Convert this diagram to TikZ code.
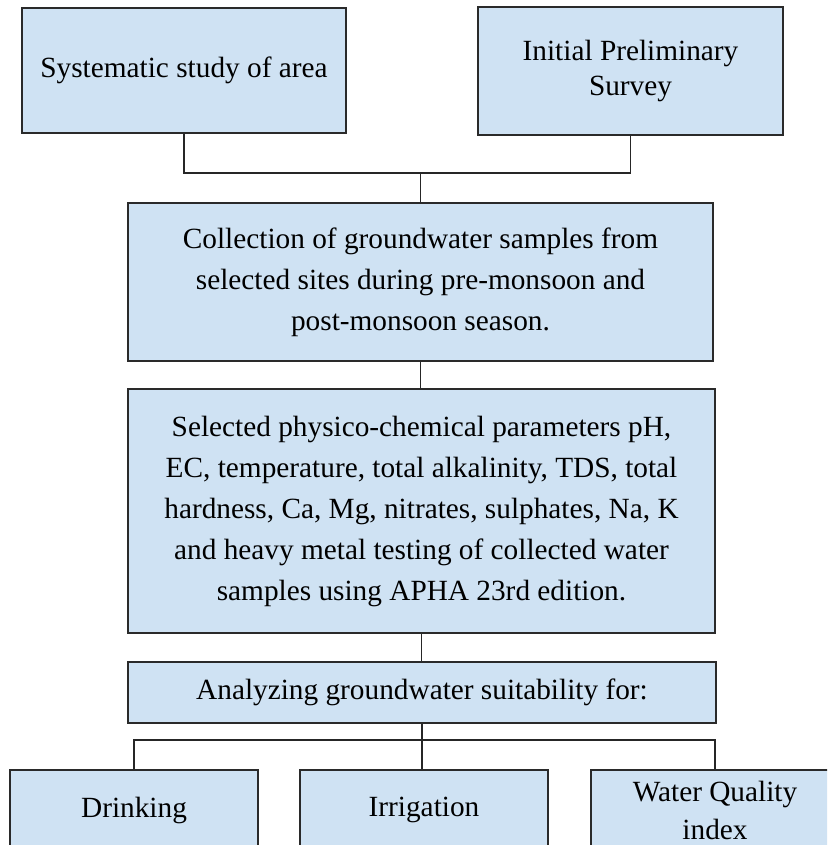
\documentclass[tikz,border=0pt]{standalone}
\usepackage{fontspec}
\setmainfont{Liberation Serif}
\definecolor{boxfill}{HTML}{CFE2F3}
\definecolor{boxline}{HTML}{2A2A2A}
\begin{document}
\begin{tikzpicture}[x=1pt,y=-1pt,
  flowbox/.style={draw=boxline, fill=boxfill, line width=1.3pt, rectangle,
    inner sep=0pt, align=center, text=black,
    font=\fontsize{29.3}{41}\selectfont},
  link/.style={draw=black!85, line width=1.2pt}]
\useasboundingbox (0,0) rectangle (827,845);
\clip (0,0) rectangle (827,845);

\node[flowbox, minimum width=324pt, minimum height=125pt] (b1) at (184,70.5)
  {Systematic study of area};
\node[flowbox, minimum width=305pt, minimum height=128pt,
  font=\fontsize{29.3}{35}\selectfont] (b2) at (630.5,71)
  {Initial Preliminary\\Survey};
\node[flowbox, minimum width=585pt, minimum height=158pt] (b3) at (420.5,282)
  {Collection of groundwater samples from\\selected sites during pre-monsoon and\\post-monsoon season.};
\node[flowbox, minimum width=587pt, minimum height=244pt] (b4) at (421.5,511)
  {Selected physico-chemical parameters pH,\\EC, temperature, total alkalinity, TDS, total\\hardness, Ca, Mg, nitrates, sulphates, Na, K\\and heavy metal testing of collected water\\samples using APHA 23rd edition.};
\node[flowbox, minimum width=588pt, minimum height=61pt] (b5) at (422,692.5)
  {Analyzing groundwater suitability for:};
\node[flowbox, minimum width=248pt, minimum height=80pt] (d) at (134,810)
  {Drinking};
\node[flowbox, minimum width=248pt, minimum height=80pt] (irr) at (424,810)
  {Irrigation};
\node[flowbox, minimum width=248pt, minimum height=80pt,
  font=\fontsize{29.3}{38}\selectfont] (wqi) at (715,810)
  {Water Quality\\index};

\coordinate (j1) at (420.5,173);
\coordinate (j2) at (423,740);

\draw[link] (b1.south) -- (b1.south |- j1) -- (b2.south |- j1) -- (b2.south);
\draw[link] (j1) -- (b3.north);
\draw[link] (b3.south) -- (b3.south |- b4.north);
\draw[link] (b4.south) -- (b4.south |- b5.north);
\draw[link] (b5.south) -- (b5.south |- irr.north);
\draw[link] (d.north) -- (d.north |- j2) -- (wqi.north |- j2) -- (wqi.north);
\end{tikzpicture}
\end{document}
